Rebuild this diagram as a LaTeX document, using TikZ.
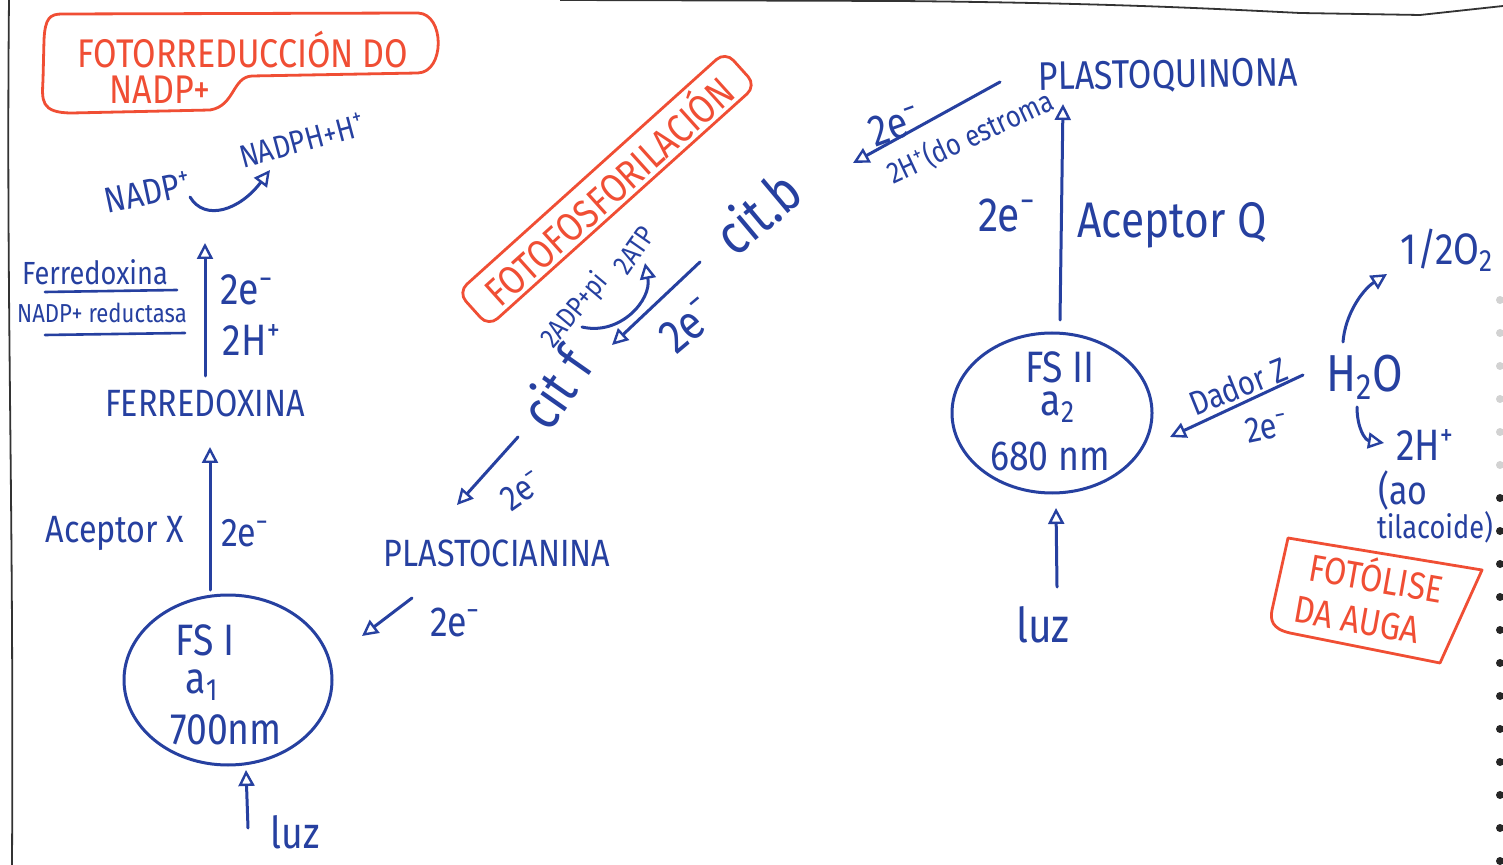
\documentclass[tikz,border=0pt]{standalone}
\usepackage{fontspec}
\setmainfont{Fira Sans}[FakeStretch=0.85]
\usetikzlibrary{arrows.meta,shapes.geometric}
\definecolor{inkblue}{RGB}{38,64,160}
\definecolor{inkred}{RGB}{240,78,52}
\begin{document}
\begin{tikzpicture}[x=0.5pt,y=-0.5pt,
  hw/.style={text=inkblue, inner sep=0pt, font=\fontsize{#1}{#1}\selectfont},
  hr/.style={text=inkred, inner sep=0pt, font=\fontsize{#1}{#1}\selectfont},
  arr/.style={draw=inkblue, line width=1.5pt, line cap=round, -{Triangle[open,length=8pt,width=8pt,line width=1.2pt]}},
  ink/.style={draw=inkblue, line width=1.3pt, line cap=round},
  redink/.style={draw=inkred, line width=1.4pt, line join=round},
  psys/.style={draw=inkblue, line width=1.5pt, ellipse, inner sep=0pt},
  pageline/.style={draw=black!80, line width=0.9pt}]
\fill[white] (0,0) rectangle (1503,865);
\useasboundingbox (0,0) rectangle (1503,865);

% page edges
\draw[pageline] (9,0) .. controls (6,300) and (14,500) .. (12,865);
\draw[pageline] (560,0) -- (900,1) .. controls (1100,3) and (1200,8) .. (1300,13) -- (1420,15) -- (1503,6);
\foreach \yy in {300,333,366,399,432,465} \fill[gray!35] (1500,\yy) circle[radius=2pt];
\foreach \yy in {498,531,564,597,630,663,696,729,762,795,828,861} \fill[black!85] (1500,\yy) circle[radius=2pt];

% ---------- Fotorreducion box
\node[hr=20] (tRedA1) at (243,50) {FOTORREDUCCIÓN DO};
\node[hr=20] (tRedA2) at (160,90) {NADP+};
\draw[redink] (62,14) -- (418,13) .. controls (445,14) and (445,72) .. (418,73) -- (252,76)
  .. controls (232,77) and (235,106) .. (210,110) -- (72,113) .. controls (40,113) and (42,100) .. (43,80)
  -- (44,40) .. controls (45,18) and (50,14) .. (62,14) -- cycle;

% NADP+ -> NADPH
\node[hw=18, rotate=12] (nadp) at (148,192) {NADP\textsuperscript{+}};
\node[hw=16, rotate=15] (nadph) at (302,140) {NADPH+H\textsuperscript{+}};
\coordinate (nadpA) at (190,197);
\coordinate (nadpB) at (270,170);
\draw[arr] (nadpA) .. controls (205,222) and (240,210) .. (nadpB);

% Ferredoxina
\node[hw=19] (ferr) at (205,403) {FERREDOXINA};
\coordinate (ferrA) at (205,376);
\coordinate (ferrB) at (205,243);
\draw[arr] (ferrA) -- (ferrB);
\node[hw=22] (e1) at (247,290) {2e\textsuperscript{−}};
\node[hw=22] (h1) at (252,340) {2H\textsuperscript{+}};
\node[hw=16] (fdx) at (95,272) {Ferredoxina};
\node[hw=13] (fnr) at (102,313) {NADP+ reductasa};
\draw[ink] (45,292) -- (177,290);
\draw[ink] (45,335) -- (185,333);

% FS I
\node[psys, minimum width=104pt, minimum height=85pt] (fs1) at (228,680) {};
\node[hw=22] (fs1a) at (205,640) {FS I};
\node[hw=22] (fs1b) at (202,685) {a\textsubscript{1}};
\node[hw=22] (fs1c) at (226,730) {700nm};
\coordinate (fs1top) at (210,590);
\coordinate (ferrBot) at (210,447);
\draw[arr] (fs1top) -- (ferrBot);
\node[hw=19] (accX) at (115,533) {Aceptor X};
\node[hw=20] (e2) at (245,533) {2e\textsuperscript{−}};
\node[hw=22] (luz1) at (295,832) {luz};
\coordinate (luz1A) at (248,828);
\coordinate (fs1bot) at (246,770);
\draw[arr] (luz1A) -- (fs1bot);

% Plastocianina
\node[hw=19] (pc) at (497,553) {PLASTOCIANINA};
\coordinate (pcA) at (412,598);
\coordinate (fs1in) at (362,636);
\draw[arr] (pcA) -- (fs1in);
\node[hw=21] (e3) at (455,622) {2e\textsuperscript{−}};
\coordinate (citfA) at (518,437);
\coordinate (pcIn) at (457,505);
\draw[arr] (citfA) -- (pcIn);
\node[hw=18, rotate=35] (e4) at (522,490) {2e\textsuperscript{−}};

% cit f / cit b
\node[hw=28, rotate=55] (citf) at (555,388) {cit f};
\node[hw=28, rotate=40] (citb) at (757,212) {cit.b};
\coordinate (citbA) at (700,262);
\coordinate (citfIn) at (612,345);
\draw[arr] (citbA) -- (citfIn);
\node[hw=24, rotate=40] (e5) at (688,325) {2e\textsuperscript{−}};
\node[hw=14, rotate=50] (adp) at (575,311) {2ADP+pi};
\node[hw=14, rotate=55] (atp) at (634,250) {2ATP};
\coordinate (adpA) at (582,327);
\coordinate (atpB) at (645,263);
\draw[arr] (adpA) .. controls (620,336) and (652,300) .. (atpB);

% Fotofosforilacion box
\node[hr=20, draw=inkred, line width=1.4pt, rounded corners=6pt, rotate=42,
      minimum width=180pt, minimum height=23pt] (fotofos) at (607,189) {FOTOFOSFORILACIÓN};

% Plastoquinona
\node[hw=20, rotate=1] (pq) at (1168,76) {PLASTOQUINONA};
\coordinate (pqA) at (1000,82);
\coordinate (citbIn) at (853,163);
\draw[arr] (pqA) -- (citbIn);
\node[hw=22, rotate=20] (e6) at (895,125) {2e\textsuperscript{−}};
\node[hw=15, rotate=25] (hst) at (970,137) {2H\textsuperscript{+}(do estroma};

% FS II
\node[psys, minimum width=100pt, minimum height=80pt] (fs2) at (1052,413) {};
\node[hw=22] (fs2a) at (1060,367) {FS II};
\node[hw=22] (fs2b) at (1058,407) {a\textsubscript{2}};
\node[hw=21] (fs2c) at (1050,456) {680 nm};
\coordinate (fs2top) at (1060,320);
\coordinate (pqBot) at (1063,104);
\draw[arr] (fs2top) -- (pqBot);
\node[hw=24] (e7) at (1007,215) {2e\textsuperscript{−}};
\node[hw=25] (accQ) at (1172,225) {Aceptor Q};
\node[hw=24] (luz2) at (1043,625) {luz};
\coordinate (luz2A) at (1057,587);
\coordinate (fs2bot) at (1056,508);
\draw[arr] (luz2A) -- (fs2bot);

% water
\node[hw=26] (h2o) at (1365,377) {H\textsubscript{2}O};
\coordinate (h2oA) at (1303,375);
\coordinate (fs2in) at (1170,437);
\draw[arr] (h2oA) -- (fs2in);
\node[hw=17, rotate=22] (dz) at (1238,386) {Dador Z};
\node[hw=18, rotate=12] (e8) at (1267,427) {2e\textsuperscript{−}};
\node[hw=22] (o2) at (1447,250) {1/2O\textsubscript{2}};
\coordinate (h2oUp) at (1343,342);
\coordinate (o2In) at (1387,274);
\draw[arr] (h2oUp) .. controls (1345,315) and (1362,290) .. (o2In);
\node[hw=22] (hp) at (1425,445) {2H\textsuperscript{+}};
\coordinate (h2oDn) at (1357,407);
\coordinate (hpIn) at (1384,443);
\draw[arr] (h2oDn) .. controls (1357,428) and (1365,440) .. (hpIn);
\node[hw=20] (ao) at (1403,490) {(ao};
\node[hw=16] (til) at (1435,527) {tilacoide)};

% Fotolise box
\node[hr=19, rotate=-10] (fl1) at (1377,575) {FOTÓLISE};
\node[hr=19, rotate=-10] (fl2) at (1357,620) {DA AUGA};
\draw[redink] (1288,538) -- (1482,570) -- (1440,663) -- (1290,633)
  .. controls (1272,629) and (1270,620) .. (1272,610) -- cycle;
\end{tikzpicture}
\end{document}
